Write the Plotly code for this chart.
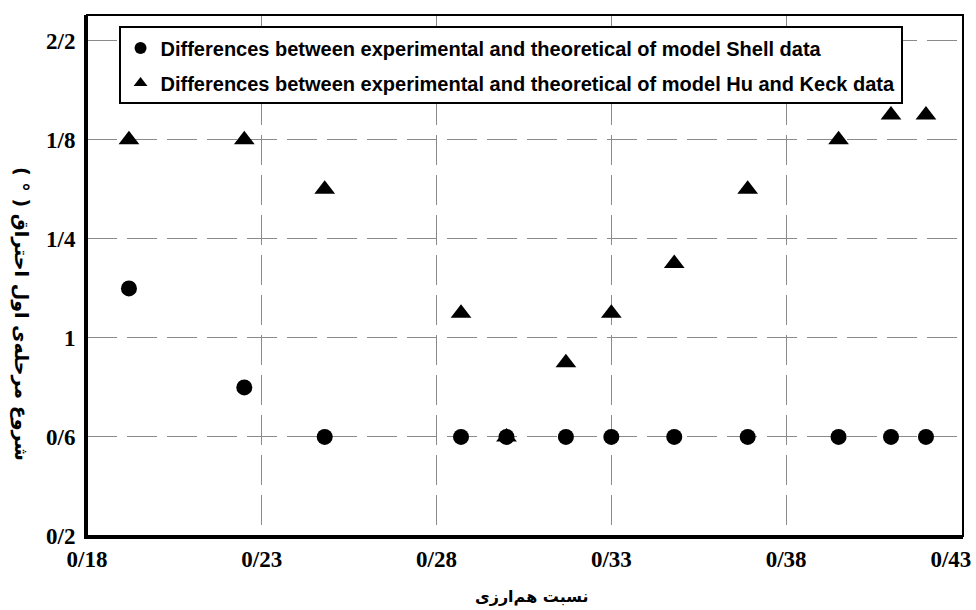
import plotly.graph_objects as go

# Data
x_values = [0.192, 0.225, 0.248, 0.287, 0.300, 0.317, 0.330, 0.348, 0.369, 0.395, 0.410, 0.420]
shell_values = [1.2, 0.8, 0.6, 0.6, 0.6, 0.6, 0.6, 0.6, 0.6, 0.6, 0.6, 0.6]
hu_keck_values = [1.8, 1.8, 1.6, 1.1, 0.6, 0.9, 1.1, 1.3, 1.6, 1.8, 1.9, 1.9]

x_tick_vals = [0.18, 0.23, 0.28, 0.33, 0.38, 0.43]
x_tick_text = ["0/18", "0/23", "0/28", "0/33", "0/38", "0/43"]
y_tick_vals = [0.2, 0.6, 1.0, 1.4, 1.8, 2.2]
y_tick_text = ["0/2", "0/6", "1", "1/4", "1/8", "2/2"]

shell_name = "Differences between experimental and theoretical of model Shell data"
hu_name = "Differences between experimental and theoretical of model Hu and Keck data"
x_title = "\u202bنسبت هم‌ارزی\u202c"
y_title = "\u202bشروع مرحله‌ی اول احتراق ( ° )\u202c"

x_range = [0.18, 0.4306]
y_range = [0.2, 2.304]

fig = go.Figure()
fig.add_trace(go.Scatter(
    x=x_values, y=shell_values, mode="markers", name=shell_name, legendgroup="a",
    marker=dict(symbol="circle", size=16, color="black"),
))
fig.add_trace(go.Scatter(
    x=x_values, y=hu_keck_values, mode="markers", name=hu_name, legendgroup="b",
    marker=dict(symbol="triangle-up", size=18, color="black"),
))
# empty helper trace so the overlaid axis carrying the last tick label is drawn
fig.add_trace(go.Scatter(
    x=x_tick_vals[-1:], y=[None], xaxis="x2", yaxis="y", mode="markers",
    showlegend=False, hoverinfo="skip", marker=dict(opacity=0),
))

tick_font = dict(family="Liberation Serif", size=23, color="black", weight="bold")
grid = dict(showgrid=True, gridcolor="#8a8a8a", gridwidth=1, griddash="30px,10px",
            zeroline=False, showline=True, linecolor="black", linewidth=3,
            ticks="", tickfont=tick_font, automargin=False)

fig.update_layout(
    xaxis=dict(range=x_range, tickvals=x_tick_vals[:-1], ticktext=x_tick_text[:-1],
               ticklabelstandoff=0, **grid),
    xaxis2=dict(range=x_range, overlaying="x", anchor="y", side="bottom",
                tickvals=x_tick_vals[-1:], ticktext=x_tick_text[-1:],
                showgrid=False, zeroline=False, showline=True, linecolor="black",
                linewidth=3, ticks="",
                tickfont=tick_font, ticklabelstandoff=0, ticklabelshift=-10,
                automargin=False, ticklabeloverflow="allow"),
    yaxis=dict(range=y_range, tickvals=y_tick_vals, ticktext=y_tick_text,
               ticklabelstandoff=4, **grid),
)

fig.add_shape(type="rect", xref="paper", yref="paper", x0=0, y0=0, x1=1, y1=1,
              line=dict(color="black", width=2), layer="above")

fig.add_annotation(text=y_title, xref="paper", yref="paper", x=-0.0742, y=0.426,
                   xanchor="center", yanchor="middle", textangle=90, showarrow=False,
                   font=dict(family="DejaVu Sans", size=19, color="black", weight="bold"))
fig.add_annotation(text=x_title, xref="paper", yref="paper", x=0.508, y=-0.117,
                   xanchor="center", yanchor="middle", showarrow=False,
                   font=dict(family="DejaVu Sans", size=16, color="black", weight="bold"))

fig.update_layout(
    width=976, height=610, autosize=False,
    margin=dict(l=87, r=13, t=15, b=74, autoexpand=False),
    plot_bgcolor="white", paper_bgcolor="white",
    showlegend=True,
    legend=dict(x=0.036, y=0.978, xanchor="left", yanchor="top",
                bgcolor="white", bordercolor="black", borderwidth=2,
                tracegroupgap=6, itemsizing="constant",
                font=dict(family="Liberation Sans", size=20,
                          color="black", weight="bold")),
)

fig.write_html(
    "out.html",
    config={"displayModeBar": False},
    post_script="document.body.style.margin='0px';document.body.style.overflow='hidden';",
)
